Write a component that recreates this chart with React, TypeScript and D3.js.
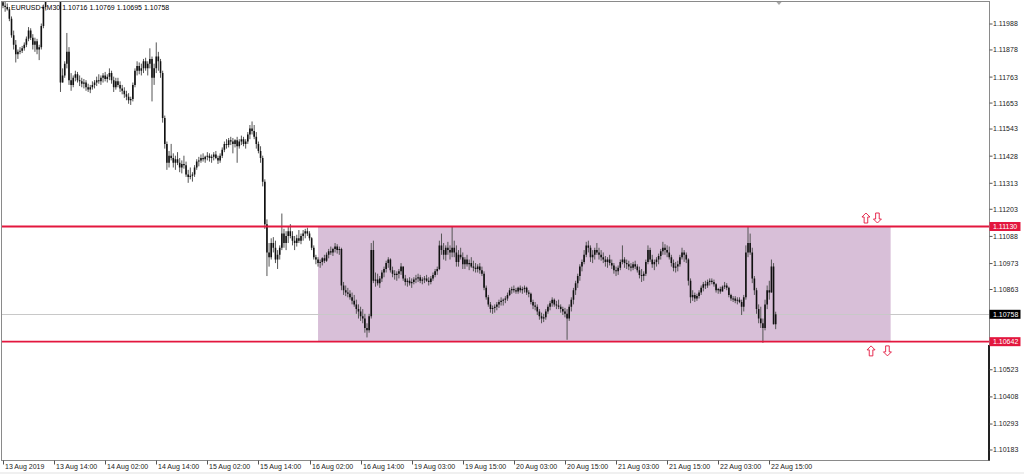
import React from 'react';
import * as d3 from 'd3';

// EURUSD+ M30 bars, prices stored in 1e-5 units above 1.00000 (12110 = 1.12110)
const FIRST_OPEN = 12080;
const highs = [
  12110,12085,12075,12060,12020,11960,11920,11880,11890,11895,11910,11935,11975,11970,11945,11930,11925,11900,11990,12070,
  12110,12180,12230,12260,12250,12230,12190,12105,11800,11830,11950,11890,11780,11770,11790,11785,11770,11760,11755,11750,
  11735,11730,11745,11750,11765,11775,11770,11780,11785,11775,11800,11790,11765,11760,11760,11745,11730,11720,11705,11695,
  11680,11740,11800,11830,11825,11820,11840,11845,11830,11885,11850,11820,11910,11870,11840,11790,11600,11490,11450,11480,
  11440,11430,11445,11420,11410,11430,11405,11370,11380,11360,11390,11415,11425,11435,11440,11430,11445,11440,11435,11445,
  11450,11430,11440,11465,11490,11500,11505,11510,11505,11500,11510,11500,11515,11510,11500,11530,11560,11575,11560,11530,
  11490,11470,11430,11330,11160,11060,11080,11085,11070,11030,11050,11185,11120,11110,11130,11140,11110,11090,11095,11115,
  11100,11115,11120,11125,11110,11085,11050,11010,11000,10990,11000,11010,11020,11035,11045,11040,11060,11055,11045,11040,
  10895,10880,10870,10860,10850,10840,10820,10800,10790,10780,10760,10720,10760,11060,11070,10935,10930,10920,10945,10960,
  10985,11000,10995,10960,10945,10940,10950,10975,10960,10925,10910,10915,10910,10915,10925,10930,10925,10915,10920,10925,
  10915,10920,10935,10950,10960,11070,11100,11060,11050,11065,11050,11130,11070,11050,11030,11040,11020,11000,11010,10990,
  11000,10985,10975,10970,10975,10960,10940,10880,10840,10810,10795,10800,10810,10820,10830,10825,10835,10850,10870,10875,
  10880,10870,10875,10880,10875,10880,10875,10860,10850,10820,10810,10800,10780,10765,10760,10780,10800,10815,10830,10825,
  10815,10820,10800,10790,10785,10780,10800,10830,10870,10900,10930,10970,10990,11030,11065,11070,11050,11030,11040,11060,
  11040,11030,11020,11005,11000,11010,10990,10975,10960,10965,10990,11050,11000,10990,10985,10975,10980,10985,10970,10960,
  10950,10940,10990,11050,11040,11010,10990,11000,11015,11035,11065,11055,11050,11045,11010,10990,10980,10985,11010,11040,
  11030,11020,10995,10910,10860,10850,10845,10860,10880,10895,10900,10905,10910,10910,10905,10890,10870,10875,10880,10895,
  10890,10875,10845,10835,10835,10830,10830,10820,10840,11050,11130,11100,11040,10920,10870,10800,10790,10740,10820,10880,
  10900,10990,10975,10769
];
const lows = [
  12055,12040,12045,12000,11930,11880,11825,11840,11860,11865,11875,11890,11915,11920,11880,11870,11860,11835,11880,11970,
  12050,12095,12120,12170,12180,12150,12095,11700,11740,11760,11800,11730,11705,11720,11745,11740,11725,11720,11715,11705,
  11700,11695,11710,11715,11725,11735,11730,11740,11745,11740,11750,11735,11700,11710,11720,11700,11690,11675,11665,11650,
  11645,11660,11720,11770,11775,11770,11780,11790,11770,11800,11660,11730,11780,11790,11760,11570,11460,11370,11380,11410,
  11380,11370,11390,11360,11355,11375,11340,11315,11330,11320,11340,11370,11385,11400,11405,11400,11410,11405,11400,11410,
  11415,11395,11400,11420,11445,11460,11465,11475,11440,11465,11400,11460,11475,11470,11460,11480,11500,11520,11500,11460,
  11440,11400,11300,11120,10920,10960,10990,11020,10975,10950,10990,11030,11040,11030,11060,11080,11050,11030,11045,11060,
  11055,11070,11080,11090,11070,11030,10990,10970,10960,10955,10965,10975,10980,10995,11010,11005,11020,11015,11010,10860,
  10840,10835,10830,10820,10800,10790,10760,10740,10730,10720,10680,10660,10680,10740,10890,10875,10880,10870,10895,10915,
  10935,10955,10935,10915,10905,10900,10910,10925,10900,10880,10875,10880,10870,10885,10890,10895,10890,10885,10890,10895,
  10880,10885,10900,10915,10925,10945,11010,10990,10985,11010,10990,11000,11000,10960,10960,10990,10950,10950,10960,10945,
  10955,10940,10935,10935,10930,10920,10860,10820,10790,10765,10760,10765,10775,10785,10795,10795,10805,10815,10835,10845,
  10850,10845,10845,10850,10845,10850,10840,10830,10800,10780,10775,10755,10735,10720,10725,10735,10760,10775,10790,10790,
  10780,10780,10765,10755,10745,10650,10730,10770,10800,10840,10870,10900,10940,10970,11000,11020,10980,10975,10990,11010,
  10990,10985,10975,10960,10955,10965,10950,10930,10920,10925,10945,10970,10955,10950,10945,10940,10945,10950,10935,10910,
  10895,10900,10920,10970,10980,10955,10945,10960,10970,10990,11010,11010,11000,10990,10960,10940,10935,10940,10960,10990,
  10980,10975,10880,10805,10815,10810,10815,10825,10840,10855,10865,10870,10880,10885,10875,10850,10845,10845,10855,10865,
  10860,10830,10815,10810,10805,10800,10805,10755,10770,10820,11000,11010,10890,10840,10760,10720,10700,10637,10690,10780,
  10820,10850,10715,10695
];
const closes = [
  12065,12060,12050,12010,11940,11900,11860,11870,11875,11885,11900,11925,11960,11930,11900,11915,11880,11890,11980,12060,
  12100,12150,12200,12230,12210,12180,12100,11740,11770,11820,11870,11750,11730,11760,11775,11750,11745,11735,11740,11720,
  11710,11720,11730,11740,11750,11745,11760,11770,11755,11765,11780,11750,11720,11745,11730,11715,11705,11690,11680,11665,
  11670,11730,11790,11810,11790,11800,11830,11800,11820,11840,11760,11800,11850,11830,11780,11590,11480,11400,11430,11420,
  11400,11415,11400,11380,11395,11390,11350,11340,11345,11350,11380,11405,11410,11420,11415,11425,11430,11420,11425,11435,
  11420,11410,11430,11455,11480,11475,11495,11490,11480,11495,11470,11490,11500,11480,11490,11520,11545,11535,11510,11480,
  11450,11420,11320,11140,11020,11000,11060,11040,10990,11010,11040,11100,11060,11090,11110,11090,11070,11060,11080,11070,
  11090,11100,11110,11100,11080,11040,11000,10990,10975,10980,10995,10985,11010,11025,11020,11035,11045,11030,11035,10880,
  10860,10850,10845,10830,10815,10800,10780,10770,10750,10740,10700,10690,10750,11030,10900,10905,10890,10910,10935,10950,
  10975,10990,10945,10930,10925,10930,10940,10960,10910,10895,10900,10890,10895,10905,10910,10915,10900,10905,10910,10900,
  10895,10910,10925,10940,10950,11050,11030,11010,11040,11030,11020,11040,11020,10980,11010,11000,10970,10990,10970,10975,
  10960,10955,10950,10960,10945,10930,10870,10830,10800,10780,10785,10790,10800,10810,10815,10820,10825,10840,10860,10865,
  10860,10855,10870,10860,10865,10870,10850,10845,10810,10795,10790,10770,10750,10740,10745,10770,10790,10805,10820,10800,
  10795,10790,10780,10770,10760,10740,10790,10820,10860,10890,10920,10960,10980,11010,11050,11040,11000,11010,11030,11020,
  11010,11000,10990,10980,10990,10975,10965,10945,10940,10955,10980,10990,10975,10970,10960,10955,10970,10960,10945,10925,
  10920,10930,10980,11030,10990,10970,10980,10990,11005,11025,11040,11030,11020,11000,10975,10955,10960,10970,11000,11020,
  11010,10990,10900,10830,10840,10825,10835,10850,10870,10885,10880,10895,10900,10895,10885,10860,10865,10855,10875,10880,
  10870,10840,10825,10825,10815,10820,10810,10790,10830,11020,11060,11020,10910,10860,10780,10740,10720,10700,10800,10860,
  10850,10960,10716,10758
];

const timeLabels = [
  '13 Aug 2019','13 Aug 14:00','14 Aug 02:00','14 Aug 14:00','15 Aug 02:00','15 Aug 14:00',
  '16 Aug 02:00','16 Aug 14:00','19 Aug 03:00','19 Aug 15:00','20 Aug 03:00','20 Aug 15:00',
  '21 Aug 03:00','21 Aug 15:00','22 Aug 03:00','22 Aug 15:00'
];
const BARS_PER_LABEL = 24;
const priceTicks = [
  '1.11988','1.11878','1.11763','1.11653','1.11543','1.11428','1.11313','1.11203',
  '1.11088','1.10973','1.10863','1.10523','1.10408','1.10293','1.10183'
];
const levelLines = ['1.11130', '1.10642'];
const bidPrice = '1.10758';
const header = 'EURUSD+,M30 1.10716 1.10769 1.10695 1.10758';
// rectangle object: bar index range and price range
const rectBars = [148, 417];
const rectPrices = [1.10642, 1.1113];
const arrowIdx = [405.4, 410.8, 407.8, 415.5];
const arrowPrice = [1.11166, 1.11166, 1.10603, 1.10603];
const arrowDir = ['up', 'down', 'up', 'down'];

const W = 1024, H = 474;
const L = 1.5, R = 989.5, T = 1.5, B = 460.5;
const RED = '#e3173e';
const FONT = '"Liberation Sans", Arial, sans-serif';

export default function App() {
  const x = d3.scaleLinear().domain([0, 360]).range([3, 769.3]);
  const y = d3.scaleLinear().domain([1.10183, 1.11988]).range([450, 24]);
  const pr = (v: number) => 1 + v / 1e5;

  const wicks = d3.path();
  const bodies = d3.path();
  closes.forEach((c, i) => {
    const o = i === 0 ? FIRST_OPEN : closes[i - 1];
    const xi = x(i);
    wicks.moveTo(xi, y(pr(highs[i])));
    wicks.lineTo(xi, y(pr(lows[i])));
    const y1 = y(pr(Math.max(o, c)));
    let y2 = y(pr(Math.min(o, c)));
    if (y2 - y1 < 1) y2 = y1 + 1;
    bodies.moveTo(xi, y1);
    bodies.lineTo(xi, y2);
  });

  const arrowPath = (cx: number, cy: number, dir: string) => {
    const s = dir === 'up' ? 1 : -1;
    const pts = [
      [0, -5], [4, -1], [1.8, -1], [1.8, 5], [-1.8, 5], [-1.8, -1], [-4, -1]
    ].map(([dx, dy]) => [cx + dx, cy + dy * s]);
    return 'M' + pts.map(p => p.join(',')).join('L') + 'Z';
  };

  return (
    <div style={{ position: 'absolute', left: 0, top: 0 }}>
      <svg width={W} height={H} style={{ display: 'block', background: '#fff' }}>
        <defs>
          <clipPath id="plot">
            <rect x={L} y={T} width={R - L} height={B - T} />
          </clipPath>
        </defs>
        <rect x={0} y={0} width={W} height={H} fill="#fff" />
        <g clipPath="url(#plot)">
          <rect
            x={x(rectBars[0])}
            y={y(rectPrices[1])}
            width={x(rectBars[1]) - x(rectBars[0])}
            height={y(rectPrices[0]) - y(rectPrices[1])}
            fill="#d8bfd8"
          />
          <line x1={L} x2={R} y1={Math.round(y(+bidPrice)) + 0.5} y2={Math.round(y(+bidPrice)) + 0.5} stroke="#c8c8c8" strokeWidth={1} />
          <path d={wicks.toString()} stroke="#555" strokeWidth={1} fill="none" />
          <path d={bodies.toString()} stroke="#111" strokeWidth={1.6} fill="none" />
          {levelLines.map(p => (
            <line key={p} x1={L} x2={R} y1={y(+p)} y2={y(+p)} stroke={RED} strokeWidth={1.8} />
          ))}
          {arrowIdx.map((ai, k) => (
            <path key={k} d={arrowPath(x(ai), y(arrowPrice[k]), arrowDir[k])} fill="#fff" stroke={RED} strokeWidth={0.9} />
          ))}
          <text x={11} y={10} fontFamily={FONT} fontSize={7} fill="#000">{header}</text>
          <polygon points="776,1.5 782,1.5 779,5" fill="#a8a8a8" />
        </g>
        {/* frame */}
        <rect x={L} y={T} width={R - L} height={B - T} fill="none" stroke="#8a8a8a" strokeWidth={1} />
        <rect x={988} y={345} width={2} height={115.5} fill="#222" />
        {/* price axis */}
        {priceTicks.map(t => {
          const yy = y(+t);
          return (
            <g key={t}>
              <line x1={R} x2={R + 3} y1={yy} y2={yy} stroke="#555" strokeWidth={1} />
              <text x={993} y={yy} dy="0.35em" fontFamily={FONT} fontSize={7} fill="#222">{t}</text>
            </g>
          );
        })}
        {levelLines.map(p => (
          <g key={'lab' + p}>
            <rect x={R} y={y(+p) - 4.5} width={31} height={9} fill={RED} />
            <text x={993} y={y(+p)} dy="0.35em" fontFamily={FONT} fontSize={7} fill="#fff">{p}</text>
          </g>
        ))}
        <rect x={R} y={y(+bidPrice) - 4.5} width={31} height={9} fill="#000" />
        <text x={993} y={y(+bidPrice)} dy="0.35em" fontFamily={FONT} fontSize={7} fill="#fff">{bidPrice}</text>
        {/* time axis */}
        {timeLabels.map((t, k) => {
          const xx = Math.round(x(k * BARS_PER_LABEL)) + 0.5;
          return (
            <g key={t}>
              <line x1={xx} x2={xx} y1={B} y2={B + 4} stroke="#555" strokeWidth={1} />
              <text x={xx + 1.5} y={469} fontFamily={FONT} fontSize={7} fill="#222">{t}</text>
            </g>
          );
        })}
        <rect x={0} y={472} width={W} height={2} fill="#f0f0f0" />
      </svg>
    </div>
  );
}
